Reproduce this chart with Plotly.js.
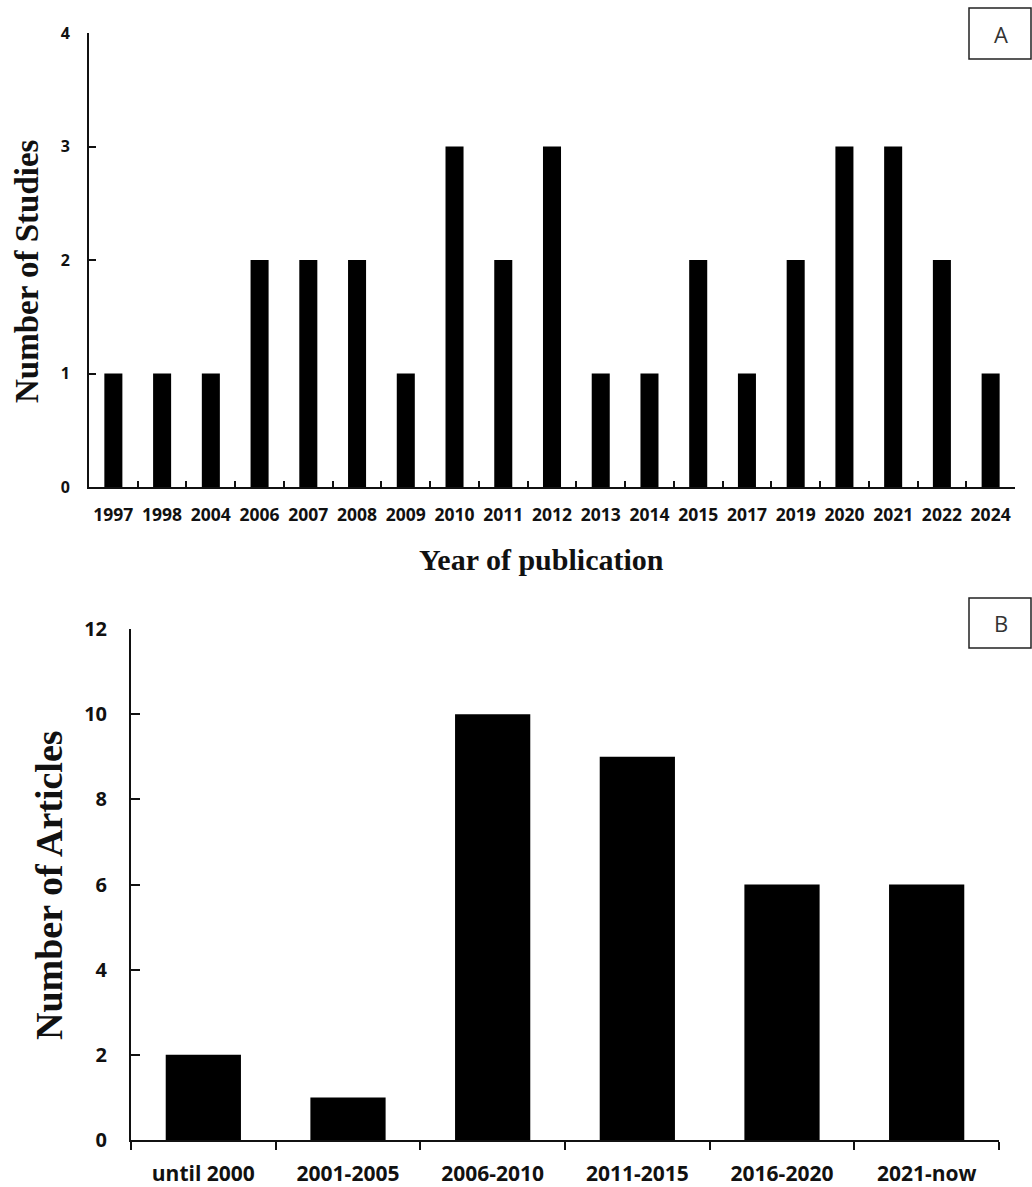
<!DOCTYPE html>
<html>
<head>
<meta charset="utf-8">
<script src="https://cdn.plot.ly/plotly-3.0.1.min.js"></script>
<style>
  html, body { margin: 0; padding: 0; background: #fff; }
  #chart { width: 1032px; height: 1187px; }
</style>
</head>
<body>
<div id="chart"></div>
<script>
// Panel A: studies per publication year
const years = ['1997','1998','2004','2006','2007','2008','2009','2010','2011','2012',
               '2013','2014','2015','2017','2019','2020','2021','2022','2024'];
const studies = [1,1,1,2,2,2,1,3,2,3,1,1,2,1,2,3,3,2,1];

// Panel B: articles per period
const periods = ['until 2000','2001-2005','2006-2010','2011-2015','2016-2020','2021-now'];
const articles = [2,1,10,9,6,6];

const W = 1032, H = 1187;
const px = x => x / W;          // pixel -> paper x
const py = y => 1 - y / H;      // pixel -> paper y

const tickFont = size => ({family: 'Open Sans, Arial, sans-serif', size: size, color: '#111', weight: 'bold'});
const titleFont = size => ({family: 'Liberation Serif, Times New Roman, serif', size: size, color: '#111', weight: 'bold'});

const traces = [
  {type: 'bar', x: years, y: studies, xaxis: 'x', yaxis: 'y', width: 0.37,
   marker: {color: '#000', line: {width: 0}}, hoverinfo: 'x+y'},
  {type: 'bar', x: periods, y: articles, xaxis: 'x2', yaxis: 'y2', width: 0.52,
   marker: {color: '#000', line: {width: 0}}, hoverinfo: 'x+y'}
];

const axisLine = {showline: true, linecolor: '#111', linewidth: 2, showgrid: false, zeroline: false,
                  tickcolor: '#111', tickwidth: 2};

const layout = {
  width: W, height: H,
  margin: {l: 0, r: 0, t: 0, b: 0},
  paper_bgcolor: '#fff', plot_bgcolor: '#fff',
  showlegend: false,
  xaxis: Object.assign({}, axisLine, {
    domain: [px(89), px(1015)], anchor: 'y',
    type: 'category', tickson: 'boundaries', ticks: 'inside', ticklen: 6,
    tickangle: 0, tickfont: tickFont(17.5), ticklabelstandoff: 11
  }),
  yaxis: Object.assign({}, axisLine, {
    domain: [py(487), py(33)], anchor: 'x',
    range: [0, 4], tickvals: [0,1,2,3,4], ticks: 'inside', ticklen: 7,
    tickfont: tickFont(16), ticklabelstandoff: 14
  }),
  xaxis2: Object.assign({}, axisLine, {
    domain: [px(131), px(999)], anchor: 'y2',
    type: 'category', tickson: 'boundaries', ticks: 'outside', ticklen: 8,
    tickangle: 0, tickfont: tickFont(21), ticklabelstandoff: 14
  }),
  yaxis2: Object.assign({}, axisLine, {
    domain: [py(1140), py(629)], anchor: 'x2',
    range: [0, 12], tickvals: [0,2,4,6,8,10,12], ticks: 'inside', ticklen: 9,
    tickfont: tickFont(20), ticklabelstandoff: 18
  }),
  annotations: [
    {text: 'Number of Studies', xref: 'paper', yref: 'paper', x: px(27), y: py(271),
     xanchor: 'center', yanchor: 'middle', textangle: -90, showarrow: false, font: titleFont(33)},
    {text: 'Year of publication', xref: 'paper', yref: 'paper', x: px(541), y: py(560),
     xanchor: 'center', yanchor: 'middle', showarrow: false, font: titleFont(30)},
    {text: 'Number of Articles', xref: 'paper', yref: 'paper', x: px(49), y: py(885),
     xanchor: 'center', yanchor: 'middle', textangle: -90, showarrow: false, font: titleFont(38)},
    {text: 'A', xref: 'paper', yref: 'paper', x: px(1001), y: py(34),
     xanchor: 'center', yanchor: 'middle', showarrow: false,
     font: {family: 'Open Sans, Arial, sans-serif', size: 22, color: '#333'}},
    {text: 'B', xref: 'paper', yref: 'paper', x: px(1001), y: py(623),
     xanchor: 'center', yanchor: 'middle', showarrow: false,
     font: {family: 'Open Sans, Arial, sans-serif', size: 22, color: '#333'}}
  ],
  shapes: [
    {type: 'rect', xref: 'paper', yref: 'paper', x0: px(969), x1: px(1031), y0: py(59), y1: py(8),
     line: {color: '#222', width: 1.5}, fillcolor: 'rgba(0,0,0,0)'},
    {type: 'rect', xref: 'paper', yref: 'paper', x0: px(969), x1: px(1031), y0: py(648), y1: py(598),
     line: {color: '#222', width: 1.5}, fillcolor: 'rgba(0,0,0,0)'}
  ]
};

Plotly.newPlot('chart', traces, layout, {displayModeBar: false, staticPlot: true});
</script>
</body>
</html>
